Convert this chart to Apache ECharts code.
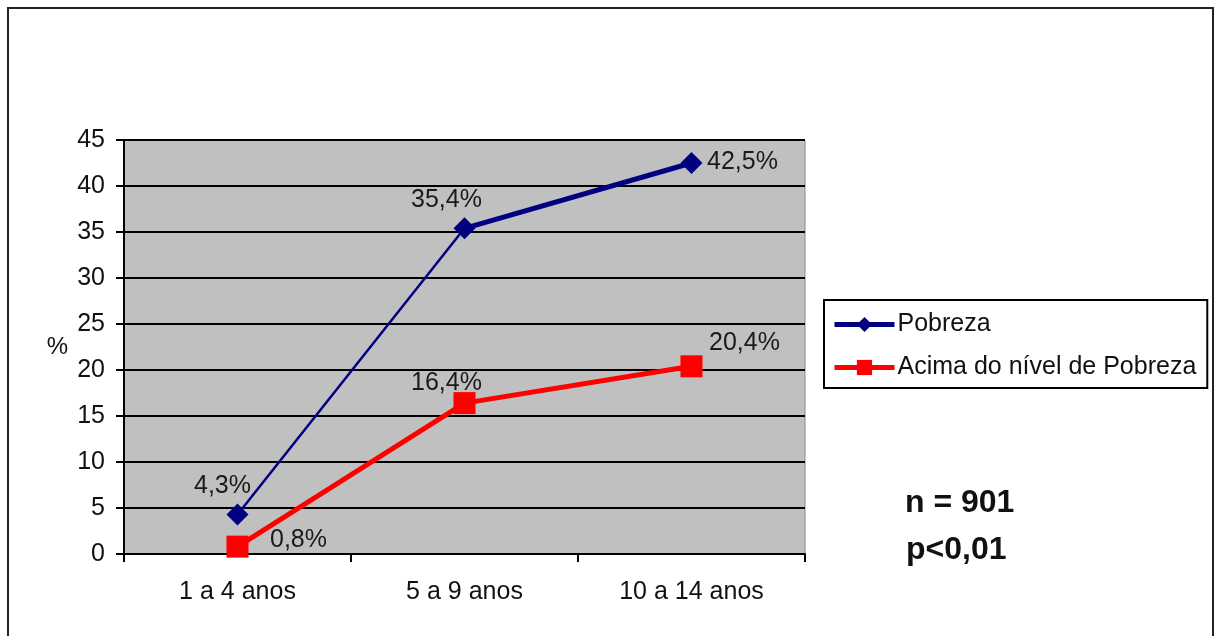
<!DOCTYPE html>
<html>
<head>
<meta charset="utf-8">
<script src="https://cdn.jsdelivr.net/npm/echarts@6/dist/echarts.min.js"></script>
<style>
html,body{margin:0;padding:0;background:#fff;}
#chart{width:1217px;height:636px;}
</style>
</head>
<body>
<div id="chart"></div>
<script>
const categories = ['1 a 4 anos', '5 a 9 anos', '10 a 14 anos'];
const pobreza = [4.3, 35.4, 42.5];
const acima = [0.8, 16.4, 20.4];
const seriesNames = ['Pobreza', 'Acima do nível de Pobreza'];
const yTicks = [0, 5, 10, 15, 20, 25, 30, 35, 40, 45];
const notes = ['n = 901', 'p<0,01'];

// label offsets (style only)
const pobrezaLabelOffsets = [[-15, -28], [-18, -28], [51, -1]];
const acimaLabelOffsets = [[61, -7], [-18, -20], [53, -23]];

const FONT = '"Liberation Sans", Arial, sans-serif';
const fmt = v => v.toFixed(1).replace('.', ',') + '%';

const chart = echarts.init(document.getElementById('chart'), null, {renderer: 'canvas'});

function labelled(arr, offsets) {
  return arr.map((v, i) => ({
    value: v,
    label: {offset: offsets[i]}
  }));
}

const option = {
  backgroundColor: '#fff',
  animation: false,
  grid: {
    left: 124, top: 140, width: 681, height: 414,
    show: true, backgroundColor: '#c0c0c0', borderColor: '#8a8a8a', borderWidth: 1
  },
  legend: {
    left: 824, top: 300,
    orient: 'vertical',
    padding: [12, 11, 8, 8],
    borderColor: '#000', borderWidth: 2,
    itemWidth: 60, itemHeight: 19, itemGap: 18,
    textStyle: {fontFamily: FONT, fontSize: 25, color: '#111', lineHeight: 25, padding: [0, 0, 0, -2]},
    data: [
      {name: seriesNames[0], lineStyle: {width: 5}},
      {name: seriesNames[1], lineStyle: {width: 5}}
    ]
  },
  xAxis: {
    type: 'category',
    data: categories,
    boundaryGap: true,
    axisLine: {lineStyle: {color: '#000', width: 2}},
    axisTick: {show: true, length: 8, alignWithLabel: false, lineStyle: {color: '#000', width: 2}},
    axisLabel: {fontFamily: FONT, fontSize: 25, color: '#111', margin: 26}
  },
  yAxis: {
    type: 'value',
    min: yTicks[0], max: yTicks[yTicks.length - 1], interval: 5,
    name: '%',
    nameLocation: 'middle',
    nameRotate: 0,
    nameGap: 56,
    nameTextStyle: {fontFamily: FONT, fontSize: 24, color: '#111'},
    axisLine: {show: true, lineStyle: {color: '#000', width: 2}},
    axisTick: {show: true, length: 8, lineStyle: {color: '#000', width: 2}},
    axisLabel: {fontFamily: FONT, fontSize: 25, color: '#111', margin: 19},
    splitLine: {show: true, lineStyle: {color: '#000', width: 2}}
  },
  graphic: [
    {type: 'rect', shape: {x: 8, y: 8, width: 1205, height: 640}, style: {fill: null, stroke: '#222', lineWidth: 2}, silent: true, z: 100},
    {type: 'text', left: 905, top: 487, style: {text: notes[0], font: 'bold 32px ' + FONT, fill: '#111'}},
    {type: 'text', left: 906, top: 534, style: {text: notes[1], font: 'bold 32px ' + FONT, fill: '#111'}}
  ],
  series: [
    {
      name: seriesNames[0],
      type: 'line',
      data: labelled(pobreza, pobrezaLabelOffsets),
      symbol: 'diamond', symbolSize: 22,
      color: '#000080',
      itemStyle: {color: '#000080'},
      lineStyle: {color: '#000080', width: 2.5},
      z: 4,
      label: {show: true, position: 'inside', formatter: p => fmt(p.value), fontFamily: FONT, fontSize: 25, color: '#1a1a1a'}
    },
    {
      name: seriesNames[0] + ' ',
      type: 'line',
      data: pobreza.map((v, i) => i === 0 ? '-' : v),
      symbol: 'none',
      color: '#000080',
      lineStyle: {color: '#000080', width: 5},
      silent: true,
      z: 3
    },
    {
      name: seriesNames[1],
      type: 'line',
      data: labelled(acima, acimaLabelOffsets),
      symbol: 'rect', symbolSize: 22,
      color: '#ff0000',
      itemStyle: {color: '#ff0000'},
      lineStyle: {color: '#ff0000', width: 5},
      z: 4,
      label: {show: true, position: 'inside', formatter: p => fmt(p.value), fontFamily: FONT, fontSize: 25, color: '#1a1a1a'}
    }
  ]
};
chart.setOption(option);
</script>
</body>
</html>
